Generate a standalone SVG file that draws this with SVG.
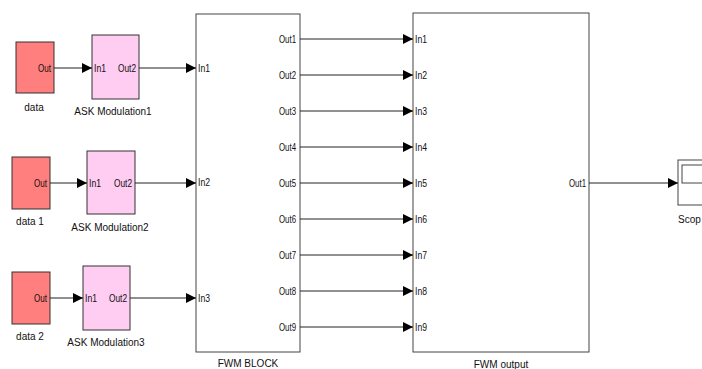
<svg xmlns="http://www.w3.org/2000/svg" width="702" height="369" viewBox="0 0 702 369">
<defs>
<marker id="arr" viewBox="0 0 10 10" refX="10" refY="5" markerWidth="10" markerHeight="10" markerUnits="userSpaceOnUse" orient="auto">
<path d="M0,0 L10,5 L0,10 Z" fill="#000"/>
</marker>
</defs>
<style>
text{font-family:"Liberation Sans",Arial,sans-serif;font-size:10px;fill:#111}
.p{font-size:11px}
.src{fill:#ff7f7f;stroke:#333;stroke-width:1}
.ask{fill:#ffccf2;stroke:#333;stroke-width:1}
.blk{fill:#fff;stroke:#444;stroke-width:1}
.lbl{text-anchor:middle}
.po{text-anchor:end}
.w{stroke:#222;stroke-width:1.2;fill:none;marker-end:url(#arr)}
</style>
<rect width="702" height="369" fill="#fff"/>
<g id="data">
<rect class="src" x="16" y="42" width="38" height="51"/>
<text class="po p" x="51" y="72" textLength="13" lengthAdjust="spacingAndGlyphs">Out</text>
<text class="lbl" x="34" y="111">data</text>
</g>
<g id="ask1">
<rect class="ask" x="92" y="35" width="47" height="64"/>
<text class="p" x="94" y="72" textLength="12" lengthAdjust="spacingAndGlyphs">In1</text>
<text class="po p" x="136" y="72" textLength="18" lengthAdjust="spacingAndGlyphs">Out2</text>
<text class="lbl" x="113" y="115">ASK Modulation1</text>
</g>
<g id="data1">
<rect class="src" x="12" y="157" width="38" height="52"/>
<text class="po p" x="47" y="187" textLength="13" lengthAdjust="spacingAndGlyphs">Out</text>
<text class="lbl" x="30" y="225">data 1</text>
</g>
<g id="ask2">
<rect class="ask" x="87" y="151" width="48" height="63"/>
<text class="p" x="89" y="187" textLength="12" lengthAdjust="spacingAndGlyphs">In1</text>
<text class="po p" x="132" y="187" textLength="18" lengthAdjust="spacingAndGlyphs">Out2</text>
<text class="lbl" x="110" y="231">ASK Modulation2</text>
</g>
<g id="data2">
<rect class="src" x="12" y="272" width="38" height="52"/>
<text class="po p" x="47" y="302" textLength="13" lengthAdjust="spacingAndGlyphs">Out</text>
<text class="lbl" x="30" y="340">data 2</text>
</g>
<g id="ask3">
<rect class="ask" x="83" y="266" width="47" height="64"/>
<text class="p" x="85" y="302" textLength="12" lengthAdjust="spacingAndGlyphs">In1</text>
<text class="po p" x="127" y="302" textLength="18" lengthAdjust="spacingAndGlyphs">Out2</text>
<text class="lbl" x="106" y="346">ASK Modulation3</text>
</g>
<g id="fwmblock">
<rect class="blk" x="196" y="14" width="104" height="338"/>
<text class="p" x="198" y="72" textLength="12" lengthAdjust="spacingAndGlyphs">In1</text>
<text class="p" x="198" y="186" textLength="12" lengthAdjust="spacingAndGlyphs">In2</text>
<text class="p" x="198" y="302" textLength="12" lengthAdjust="spacingAndGlyphs">In3</text>
<text class="po p" x="296" y="43" textLength="17" lengthAdjust="spacingAndGlyphs">Out1</text>
<text class="po p" x="296" y="79" textLength="17" lengthAdjust="spacingAndGlyphs">Out2</text>
<text class="po p" x="296" y="115" textLength="17" lengthAdjust="spacingAndGlyphs">Out3</text>
<text class="po p" x="296" y="151" textLength="17" lengthAdjust="spacingAndGlyphs">Out4</text>
<text class="po p" x="296" y="187" textLength="17" lengthAdjust="spacingAndGlyphs">Out5</text>
<text class="po p" x="296" y="223" textLength="17" lengthAdjust="spacingAndGlyphs">Out6</text>
<text class="po p" x="296" y="259" textLength="17" lengthAdjust="spacingAndGlyphs">Out7</text>
<text class="po p" x="296" y="295" textLength="17" lengthAdjust="spacingAndGlyphs">Out8</text>
<text class="po p" x="296" y="331" textLength="17" lengthAdjust="spacingAndGlyphs">Out9</text>
<text class="lbl" x="248" y="367">FWM BLOCK</text>
</g>
<g id="fwmoutput">
<rect class="blk" x="413" y="13" width="176" height="339"/>
<text class="p" x="415" y="43" textLength="12" lengthAdjust="spacingAndGlyphs">In1</text>
<text class="p" x="415" y="79" textLength="12" lengthAdjust="spacingAndGlyphs">In2</text>
<text class="p" x="415" y="115" textLength="12" lengthAdjust="spacingAndGlyphs">In3</text>
<text class="p" x="415" y="151" textLength="12" lengthAdjust="spacingAndGlyphs">In4</text>
<text class="p" x="415" y="187" textLength="12" lengthAdjust="spacingAndGlyphs">In5</text>
<text class="p" x="415" y="223" textLength="12" lengthAdjust="spacingAndGlyphs">In6</text>
<text class="p" x="415" y="259" textLength="12" lengthAdjust="spacingAndGlyphs">In7</text>
<text class="p" x="415" y="295" textLength="12" lengthAdjust="spacingAndGlyphs">In8</text>
<text class="p" x="415" y="331" textLength="12" lengthAdjust="spacingAndGlyphs">In9</text>
<text class="po p" x="586" y="187" textLength="17" lengthAdjust="spacingAndGlyphs">Out1</text>
<text class="lbl" x="501" y="368">FWM output</text>
</g>
<g id="scope">
<rect class="blk" x="678" y="160" width="40" height="45"/>
<rect class="blk" x="682" y="165" width="40" height="18"/>
<text x="678" y="223">Scop</text>
</g>
<g id="connectors">
<path class="w" d="M54,68 H92"/>
<path class="w" d="M139,68 H196"/>
<path class="w" d="M50,183 H87"/>
<path class="w" d="M135,183 H196"/>
<path class="w" d="M50,298 H83"/>
<path class="w" d="M130,298 H196"/>
<path class="w" d="M300,39 H413"/>
<path class="w" d="M300,75 H413"/>
<path class="w" d="M300,111 H413"/>
<path class="w" d="M300,147 H413"/>
<path class="w" d="M300,183 H413"/>
<path class="w" d="M300,219 H413"/>
<path class="w" d="M300,255 H413"/>
<path class="w" d="M300,291 H413"/>
<path class="w" d="M300,327 H413"/>
<path class="w" d="M589,183 H678"/>
</g>
</svg>
